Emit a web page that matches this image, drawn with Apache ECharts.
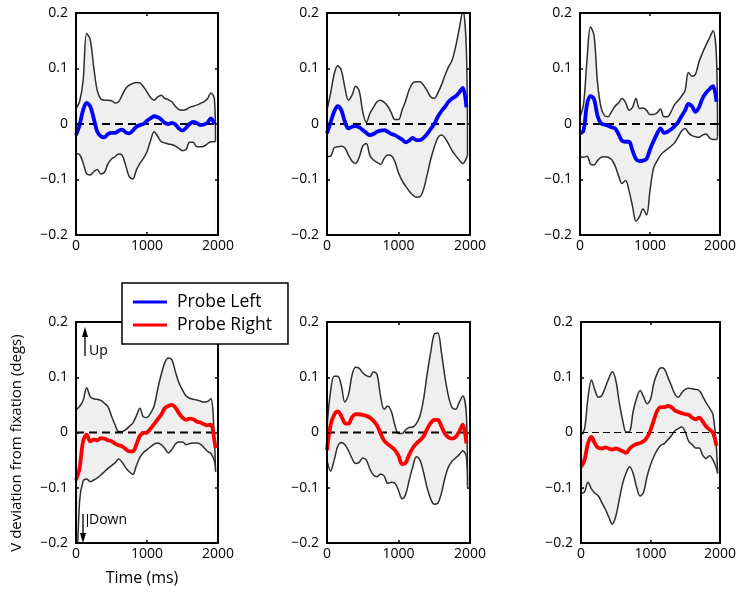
<!DOCTYPE html>
<html>
<head>
<meta charset="utf-8">
<script src="https://cdn.jsdelivr.net/npm/echarts@6/dist/echarts.min.js"></script>
<style>
  html, body { margin: 0; padding: 0; background: #fff; }
  #chart { width: 739px; height: 592px; }
</style>
</head>
<body>
<div id="chart"></div>
<script>
// time in ms, shared by every curve
const timeMs = [0, 50, 100, 150, 200, 250, 300, 350, 400, 450, 500, 550, 600, 650, 700, 750, 800, 850, 900, 950,
  1000, 1050, 1100, 1150, 1200, 1250, 1300, 1350, 1400, 1450, 1500, 1550, 1600, 1650, 1700, 1750, 1800, 1850, 1900, 1950, 1965]

// top row (probe left)
const upper1 = [0.028, 0.04, 0.078, 0.163, 0.152, 0.102, 0.06, 0.045, 0.043, 0.043, 0.042, 0.038, 0.04, 0.052, 0.064, 0.07, 0.073, 0.075, 0.074, 0.067,
  0.058, 0.048, 0.043, 0.049, 0.052, 0.046, 0.044, 0.04, 0.032, 0.026, 0.025, 0.026, 0.03, 0.032, 0.034, 0.037, 0.04, 0.045, 0.056, 0.045, -0.03]
const lower1 = [-0.053, -0.055, -0.07, -0.09, -0.092, -0.086, -0.082, -0.09, -0.087, -0.072, -0.063, -0.059, -0.054, -0.056, -0.075, -0.095, -0.099, -0.083, -0.071, -0.062,
  -0.05, -0.03, -0.014, -0.022, -0.032, -0.034, -0.036, -0.037, -0.04, -0.044, -0.048, -0.046, -0.033, -0.033, -0.041, -0.041, -0.04, -0.036, -0.032, -0.032, -0.03]
const mean1 = [-0.02, -0.002, 0.025, 0.038, 0.032, 0.01, -0.014, -0.022, -0.024, -0.018, -0.016, -0.016, -0.012, -0.01, -0.015, -0.017, -0.012, -0.005, -0.002, 0,
  0.006, 0.01, 0.014, 0.012, 0.008, 0.002, 0, 0.002, -0.001, -0.008, -0.012, -0.007, 0, 0.004, 0.002, -0.002, -0.001, 0.002, 0.01, 0, null]

const upper2 = [0.025, 0.055, 0.09, 0.105, 0.097, 0.066, 0.043, 0.052, 0.068, 0.06, 0.022, 0.003, 0.019, 0.03, 0.04, 0.043, 0.039, 0.032, 0.02, 0.008,
  0.008, 0.025, 0.042, 0.062, 0.074, 0.076, 0.076, 0.07, 0.06, 0.049, 0.046, 0.056, 0.07, 0.088, 0.103, 0.115, 0.14, 0.172, 0.205, 0.13, -0.056]
const lower2 = [-0.059, -0.058, -0.043, -0.041, -0.04, -0.043, -0.056, -0.067, -0.071, -0.06, -0.04, -0.035, -0.057, -0.065, -0.069, -0.073, -0.062, -0.056, -0.057, -0.068,
  -0.088, -0.102, -0.112, -0.121, -0.128, -0.132, -0.131, -0.118, -0.092, -0.064, -0.042, -0.025, -0.02, -0.025, -0.036, -0.048, -0.057, -0.065, -0.071, -0.062, -0.056]
const mean2 = [-0.017, 0.003, 0.022, 0.032, 0.025, 0.004, -0.008, -0.005, -0.004, -0.006, -0.011, -0.016, -0.02, -0.018, -0.014, -0.012, -0.011, -0.014, -0.018, -0.02,
  -0.024, -0.028, -0.033, -0.03, -0.025, -0.029, -0.029, -0.025, -0.018, -0.009, 0, 0.013, 0.023, 0.031, 0.04, 0.046, 0.05, 0.057, 0.065, 0.03, null]

const upper3 = [0.013, 0.035, 0.115, 0.175, 0.16, 0.075, 0.03, 0.015, 0.013, 0.022, 0.032, 0.038, 0.046, 0.039, 0.025, 0.03, 0.046, 0.028, 0.029, 0.025,
  0.017, 0.017, 0.02, 0.027, 0.013, 0.013, 0.022, 0.035, 0.042, 0.05, 0.06, 0.093, 0.086, 0.09, 0.112, 0.128, 0.142, 0.155, 0.168, 0.12, -0.023]
const lower3 = [-0.059, -0.06, -0.058, -0.072, -0.074, -0.066, -0.06, -0.059, -0.06, -0.064, -0.075, -0.093, -0.107, -0.102, -0.12, -0.148, -0.175, -0.167, -0.153, -0.164,
  -0.12, -0.08, -0.067, -0.056, -0.05, -0.045, -0.04, -0.034, -0.024, -0.013, -0.008, -0.016, -0.021, -0.023, -0.024, -0.02, -0.018, -0.025, -0.028, -0.028, -0.023]
const mean3 = [-0.017, -0.012, 0.035, 0.05, 0.045, 0.015, 0.001, -0.001, -0.003, -0.006, -0.008, -0.018, -0.03, -0.032, -0.032, -0.048, -0.063, -0.067, -0.066, -0.063,
  -0.046, -0.031, -0.018, -0.008, -0.016, -0.014, -0.01, -0.004, 0.003, 0.014, 0.024, 0.036, 0.032, 0.022, 0.03, 0.046, 0.056, 0.063, 0.068, 0.04, null]

// bottom row (probe right)
const upper4 = [0.041, 0.047, 0.058, 0.081, 0.065, 0.061, 0.06, 0.058, 0.053, 0.047, 0.03, 0.014, 0.002, 0.002, 0.005, 0.011, 0.017, 0.03, 0.044, 0.028,
  0.027, 0.035, 0.048, 0.078, 0.105, 0.126, 0.135, 0.132, 0.11, 0.09, 0.077, 0.066, 0.062, 0.06, 0.059, 0.057, 0.055, 0.056, 0.061, -0.015, -0.071]
const lower4 = [-0.32, -0.125, -0.088, -0.084, -0.089, -0.086, -0.082, -0.077, -0.071, -0.065, -0.06, -0.055, -0.048, -0.054, -0.064, -0.071, -0.076, -0.06, -0.045, -0.036,
  -0.031, -0.026, -0.021, -0.019, -0.022, -0.029, -0.037, -0.031, -0.021, -0.017, -0.017, -0.022, -0.02, -0.019, -0.019, -0.021, -0.027, -0.034, -0.038, -0.052, -0.071]
const mean4 = [-0.086, -0.065, -0.016, -0.004, -0.016, -0.013, -0.014, -0.01, -0.011, -0.014, -0.016, -0.02, -0.023, -0.025, -0.03, -0.034, -0.034, -0.022, -0.006, -0.001,
  0, 0.007, 0.015, 0.024, 0.032, 0.044, 0.048, 0.05, 0.045, 0.035, 0.027, 0.023, 0.025, 0.024, 0.02, 0.018, 0.015, 0.013, 0.014, -0.015, -0.028]

const upper5 = [0.01, 0.075, 0.102, 0.102, 0.085, 0.055, 0.068, 0.104, 0.118, 0.116, 0.108, 0.103, 0.101, 0.11, 0.105, 0.065, 0.042, 0.048, 0.038, 0.013,
  -0.002, -0.002, 0.005, 0.009, 0.01, 0.016, 0.03, 0.06, 0.105, 0.145, 0.178, 0.18, 0.145, 0.1, 0.065, 0.045, 0.042, 0.055, 0.066, 0.03, -0.098]
const lower5 = [-0.05, -0.07, -0.05, -0.025, -0.018, -0.022, -0.033, -0.047, -0.056, -0.054, -0.046, -0.05, -0.066, -0.077, -0.08, -0.075, -0.079, -0.092, -0.09, -0.092,
  -0.105, -0.12, -0.112, -0.086, -0.062, -0.044, -0.05, -0.072, -0.1, -0.12, -0.13, -0.128, -0.11, -0.082, -0.062, -0.052, -0.046, -0.04, -0.033, -0.045, -0.098]
const mean5 = [-0.032, 0.014, 0.032, 0.038, 0.03, 0.017, 0.016, 0.028, 0.033, 0.033, 0.032, 0.03, 0.027, 0.021, 0.013, -0.002, -0.015, -0.021, -0.026, -0.032,
  -0.042, -0.057, -0.055, -0.04, -0.028, -0.02, -0.014, -0.007, 0.006, 0.017, 0.023, 0.023, 0.011, -0.002, -0.009, -0.011, -0.008, 0.002, 0.014, -0.02, null]

const upper6 = [-0.005, 0.006, 0.062, 0.095, 0.077, 0.064, 0.067, 0.082, 0.098, 0.11, 0.095, 0.055, 0.022, 0.001, 0.002, 0.038, 0.062, 0.076, 0.065, 0.052,
  0.06, 0.09, 0.108, 0.117, 0.115, 0.1, 0.085, 0.07, 0.064, 0.072, 0.078, 0.08, 0.079, 0.078, 0.076, 0.066, 0.054, 0.044, 0.032, -0.03, -0.074]
const lower6 = [-0.11, -0.108, -0.09, -0.102, -0.11, -0.115, -0.127, -0.139, -0.153, -0.166, -0.152, -0.122, -0.092, -0.073, -0.062, -0.074, -0.099, -0.115, -0.108, -0.08,
  -0.059, -0.043, -0.031, -0.023, -0.02, -0.013, -0.006, 0.003, 0.007, 0.01, 0.001, -0.016, -0.022, -0.028, -0.028, -0.041, -0.047, -0.042, -0.05, -0.065, -0.074]
const mean6 = [-0.062, -0.05, -0.02, -0.008, -0.02, -0.028, -0.029, -0.027, -0.029, -0.031, -0.029, -0.031, -0.034, -0.037, -0.029, -0.024, -0.021, -0.019, -0.016, -0.009,
  0.004, 0.023, 0.04, 0.046, 0.046, 0.048, 0.046, 0.04, 0.037, 0.035, 0.033, 0.032, 0.027, 0.024, 0.027, 0.02, 0.011, 0.005, -0.001, -0.024, null]

const zeroLineX = [0, 2000]
const xTicks = [0, 1000, 2000]
const yTicks = [-0.2, -0.1, 0, 0.1, 0.2]
const legendNames = ['Probe Left', 'Probe Right']

const FONT = 'Open Sans'

const panels = [
  { upper: upper1, lower: lower1, mean: mean1, name: legendNames[0], color: '#0000ff', dashW: 2 },
  { upper: upper2, lower: lower2, mean: mean2, name: legendNames[0], color: '#0000ff', dashW: 2 },
  { upper: upper3, lower: lower3, mean: mean3, name: legendNames[0], color: '#0000ff', dashW: 2 },
  { upper: upper4, lower: lower4, mean: mean4, name: legendNames[1], color: '#ff0000', dashW: 2 },
  { upper: upper5, lower: lower5, mean: mean5, name: legendNames[1], color: '#ff0000', dashW: 2 },
  { upper: upper6, lower: lower6, mean: mean6, name: legendNames[1], color: '#ff0000', dashW: 1 }
]

const gridBoxes = [
  { left: 76, top: 13, width: 142, height: 222 },
  { left: 327, top: 13, width: 143, height: 222 },
  { left: 580, top: 13, width: 142, height: 222 },
  { left: 76, top: 322, width: 142, height: 221 },
  { left: 327, top: 322, width: 143, height: 221 },
  { left: 581, top: 322, width: 142, height: 221 }
]

function fmtY (v) {
  if (Math.abs(v) < 1e-9) return '0'
  return (v < 0 ? '\u2212' : '') + Math.abs(v).toFixed(1)
}

const frameLine = { show: true, onZero: false, lineStyle: { color: '#000', width: 2 } }
const frameTick = { show: true, inside: true, length: 3, lineStyle: { color: '#000', width: 1.5 } }

const grid = gridBoxes.map(b => Object.assign({ show: false, containLabel: false }, b))

const xAxis = []
const yAxis = []
gridBoxes.forEach((b, i) => {
  // bottom (labelled) and top (frame only)
  ;['bottom', 'top'].forEach(pos => {
    xAxis.push({
      type: 'value', gridIndex: i, position: pos, z: 10,
      min: xTicks[0], max: xTicks[xTicks.length - 1], interval: 1000,
      splitLine: { show: false },
      axisLine: frameLine,
      axisTick: frameTick,
      axisLabel: {
        show: pos === 'bottom', color: '#000', fontSize: 14, fontFamily: FONT, margin: 4,
        formatter: v => String(v)
      }
    })
  })
  // left (labelled) and right (frame only)
  ;['left', 'right'].forEach(pos => {
    yAxis.push({
      type: 'value', gridIndex: i, position: pos, z: 10,
      min: yTicks[0], max: yTicks[yTicks.length - 1], interval: 0.1,
      splitLine: { show: false },
      axisLine: frameLine,
      axisTick: frameTick,
      axisLabel: { show: pos === 'left', color: '#000', fontSize: 14, fontFamily: FONT, margin: 8, formatter: fmtY }
    })
  })
})

const series = []
panels.forEach((p, i) => {
  const common = { xAxisIndex: 2 * i, yAxisIndex: 2 * i, symbol: 'none', smooth: 0.35, silent: true }
  // upper bound, grey fill down to the axis bottom
  series.push(Object.assign({}, common, {
    type: 'line', z: 2,
    data: timeMs.map((t, k) => [t, p.upper[k]]),
    lineStyle: { color: '#2e2e2e', width: 1.5 },
    areaStyle: { color: '#efefef', opacity: 1, origin: 'start' }
  }))
  // lower bound, white fill below it leaves only the band shaded
  series.push(Object.assign({}, common, {
    type: 'line', z: 3,
    data: timeMs.map((t, k) => [t, p.lower[k]]),
    lineStyle: { color: '#2e2e2e', width: 1.5 },
    areaStyle: { color: '#fff', opacity: 1, origin: 'start' }
  }))
  // dashed zero line
  series.push(Object.assign({}, common, {
    type: 'line', z: 4, smooth: false,
    data: zeroLineX.map(x => [x, 0]),
    lineStyle: { color: '#000', width: p.dashW, type: p.dashW > 1 ? [8, 5] : [7, 4] }
  }))
  // mean trace
  series.push(Object.assign({}, common, {
    type: 'line', name: p.name, z: 5,
    data: timeMs.map((t, k) => [t, p.mean[k]]),
    itemStyle: { color: p.color },
    lineStyle: { color: p.color, width: 3.8 }
  }))
})

const option = {
  animation: false,
  backgroundColor: '#fff',
  grid: grid,
  xAxis: xAxis,
  yAxis: yAxis,
  legend: {
    data: legendNames,
    orient: 'vertical',
    left: 122,
    top: 283,
    icon: 'rect',
    itemWidth: 34,
    itemHeight: 3,
    itemGap: 5,
    padding: [10, 16, 10, 11],
    borderColor: '#000',
    borderWidth: 1.5,
    backgroundColor: '#fff',
    selectedMode: false,
    z: 20,
    textStyle: { color: '#000', fontSize: 17.5, fontFamily: FONT, lineHeight: 16, padding: [0, 0, 0, 5] }
  },
  graphic: [
    {
      type: 'text', x: 17, y: 443, rotation: Math.PI / 2,
      style: { text: 'V deviation from fixation (degs)', fill: '#000', font: '15px "Open Sans"', align: 'center', verticalAlign: 'middle' }
    },
    {
      type: 'text', x: 142, y: 578,
      style: { text: 'Time (ms)', fill: '#000', font: '16px "Open Sans"', align: 'center', verticalAlign: 'middle' }
    },
    // Up arrow
    { type: 'line', z: 20, shape: { x1: 85, y1: 356, x2: 85, y2: 334 }, style: { stroke: '#000', lineWidth: 1.3 } },
    { type: 'polygon', z: 20, shape: { points: [[85, 327], [82, 337], [88, 337]] }, style: { fill: '#000' } },
    {
      type: 'text', x: 89, y: 351, z: 20,
      style: { text: 'Up', fill: '#000', font: '14px "Open Sans"', align: 'left', verticalAlign: 'middle' }
    },
    // Down arrow
    { type: 'line', z: 20, shape: { x1: 83, y1: 514, x2: 83, y2: 535 }, style: { stroke: '#000', lineWidth: 1.3 } },
    { type: 'polygon', z: 20, shape: { points: [[83, 543], [80, 533], [86, 533]] }, style: { fill: '#000' } },
    { type: 'line', z: 20, shape: { x1: 87.5, y1: 514, x2: 87.5, y2: 527 }, style: { stroke: '#000', lineWidth: 1 } },
    {
      type: 'text', x: 89, y: 520, z: 20,
      style: { text: 'Down', fill: '#000', font: '14px "Open Sans"', align: 'left', verticalAlign: 'middle' }
    }
  ],
  series: series
}

const chart = echarts.init(document.getElementById('chart'))
chart.setOption(option)
</script>
</body>
</html>
